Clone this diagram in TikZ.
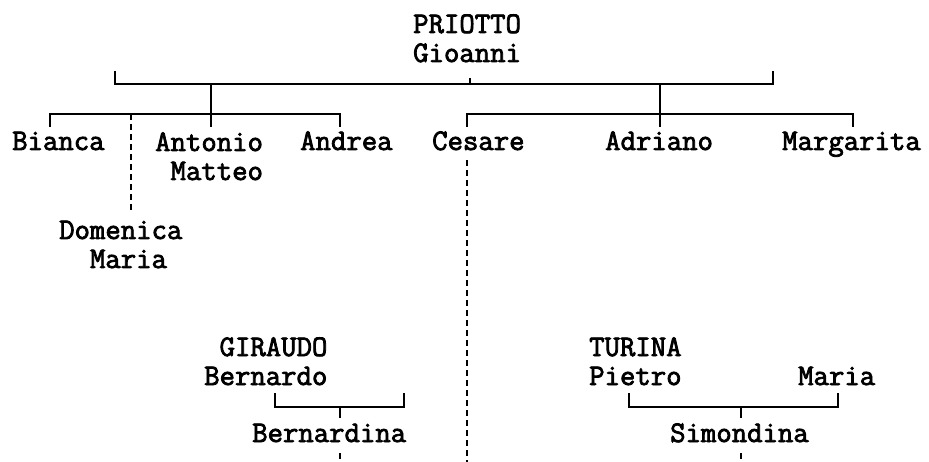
\documentclass[tikz,border=0pt]{standalone}
\usepackage{fontspec}
\newfontfamily\pedfont[FakeBold=2.6]{Latin Modern Mono}
\begin{document}
\begin{tikzpicture}[x=1pt,y=-1pt,
  person/.style={font=\pedfont\fontsize{29.9}{29}\selectfont, inner sep=0pt, anchor=base west, align=left},
  ln/.style={line width=1.5pt},
  dl/.style={line width=1.5pt, dash pattern=on 6pt off 4pt}]
\useasboundingbox (0,0) rectangle (929,462);
% people (multi-line nodes are placed at the baseline of their last line)
\node[person] (priotto) at (413,62) {PRIOTTO\\Gioanni};
\node[person] (bianca) at (12,150) {Bianca};
\node[person] (antonio) at (155,180) {Antonio\\\hphantom{A}Matteo};
\node[person] (andrea) at (300,150) {Andrea};
\node[person] (cesare) at (432,150) {Cesare};
\node[person] (adriano) at (605,150) {Adriano};
\node[person] (margarita) at (782,150) {Margarita};
\node[person] (domenica) at (59,268) {Domenica\\\hphantom{Do}Maria};
\node[person] (giraudo) at (204,385) {\hphantom{B}GIRAUDO\\Bernardo};
\node[person] (bernardina) at (252,442) {Bernardina};
\node[person] (turina) at (589,385) {TURINA\\Pietro};
\node[person] (mariat) at (798,385) {Maria};
\node[person] (simondina) at (670,442) {Simondina};
% top bracket
\coordinate (tl) at (115,71);
\coordinate (tr) at (773,71);
\draw[ln] (tl) -- (115,84) -- (773,84) -- (tr);
\draw[ln] (470,78) -- (470,84);
\draw[ln] (211,84) -- (211,127);
\draw[ln] (660,84) -- (660,127);
% left sibling bracket
\draw[ln] (50,127) -- (50,114) -- (340,114) -- (340,127);
\draw[dl] (131,114) -- (131,212);
% right sibling bracket
\draw[ln] (467,127) -- (467,114) -- (853,114) -- (853,127);
\draw[dl] (467,160) -- (467,462);
% Giraudo bracket
\draw[ln] (275,393) -- (275,407) -- (404,407) -- (404,393);
\draw[ln] (340,407) -- (340,418);
\draw[dl] (340,453) -- (340,462);
% Turina bracket
\draw[ln] (629,393) -- (629,407) -- (838,407) -- (838,393);
\draw[ln] (741,407) -- (741,418);
\draw[dl] (741,453) -- (741,462);
\end{tikzpicture}
\end{document}
